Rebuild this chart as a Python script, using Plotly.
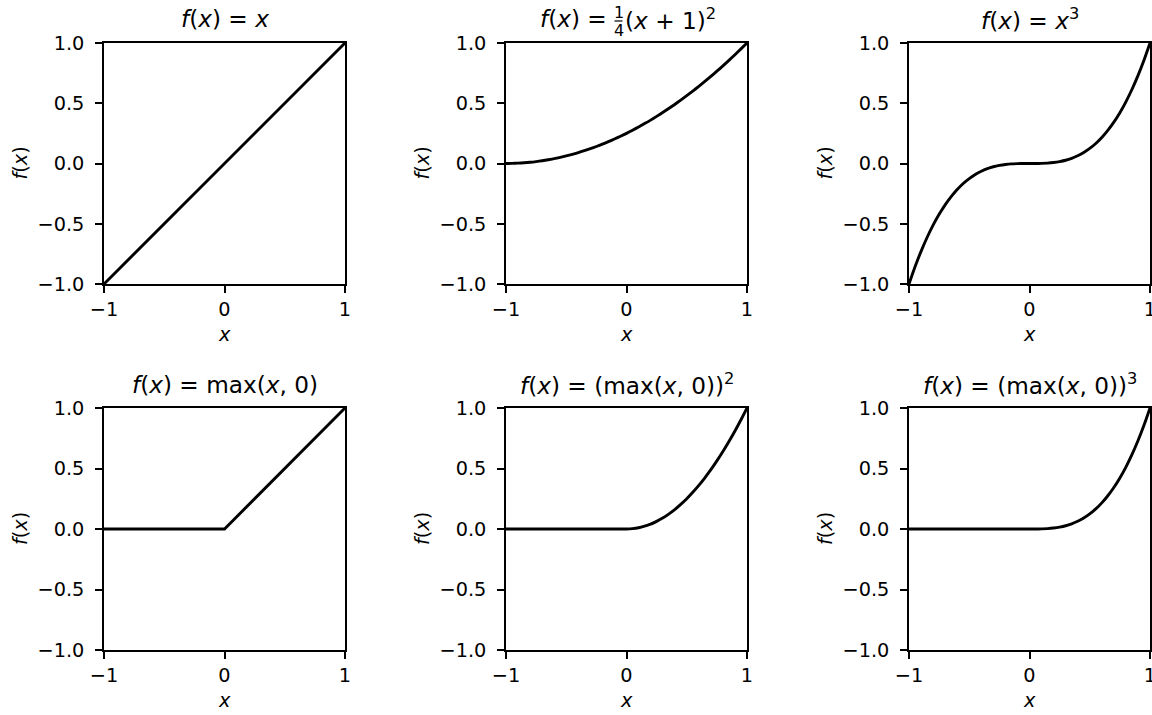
import plotly.graph_objects as go

# ---- data ----
x_vals = [-1.00, -0.95, -0.90, -0.85, -0.80, -0.75, -0.70, -0.65, -0.60, -0.55,
          -0.50, -0.45, -0.40, -0.35, -0.30, -0.25, -0.20, -0.15, -0.10, -0.05,
          0.00, 0.05, 0.10, 0.15, 0.20, 0.25, 0.30, 0.35, 0.40, 0.45,
          0.50, 0.55, 0.60, 0.65, 0.70, 0.75, 0.80, 0.85, 0.90, 0.95, 1.00]

y_identity = [-1.00, -0.95, -0.90, -0.85, -0.80, -0.75, -0.70, -0.65, -0.60, -0.55,
              -0.50, -0.45, -0.40, -0.35, -0.30, -0.25, -0.20, -0.15, -0.10, -0.05,
              0.00, 0.05, 0.10, 0.15, 0.20, 0.25, 0.30, 0.35, 0.40, 0.45,
              0.50, 0.55, 0.60, 0.65, 0.70, 0.75, 0.80, 0.85, 0.90, 0.95, 1.00]

y_quarter_sq = [0.000, 0.001, 0.003, 0.006, 0.010, 0.016, 0.023, 0.031, 0.040, 0.051,
                0.063, 0.076, 0.090, 0.106, 0.123, 0.141, 0.160, 0.181, 0.203, 0.226,
                0.250, 0.276, 0.303, 0.331, 0.360, 0.391, 0.423, 0.456, 0.490, 0.526,
                0.563, 0.601, 0.640, 0.681, 0.723, 0.766, 0.810, 0.856, 0.903, 0.951, 1.000]

y_cube = [-1.000, -0.857, -0.729, -0.614, -0.512, -0.422, -0.343, -0.275, -0.216, -0.166,
          -0.125, -0.091, -0.064, -0.043, -0.027, -0.016, -0.008, -0.003, -0.001, -0.000,
          0.000, 0.000, 0.001, 0.003, 0.008, 0.016, 0.027, 0.043, 0.064, 0.091,
          0.125, 0.166, 0.216, 0.275, 0.343, 0.422, 0.512, 0.614, 0.729, 0.857, 1.000]

y_relu = [0.00, 0.00, 0.00, 0.00, 0.00, 0.00, 0.00, 0.00, 0.00, 0.00,
          0.00, 0.00, 0.00, 0.00, 0.00, 0.00, 0.00, 0.00, 0.00, 0.00,
          0.00, 0.05, 0.10, 0.15, 0.20, 0.25, 0.30, 0.35, 0.40, 0.45,
          0.50, 0.55, 0.60, 0.65, 0.70, 0.75, 0.80, 0.85, 0.90, 0.95, 1.00]

y_relu_sq = [0.000, 0.000, 0.000, 0.000, 0.000, 0.000, 0.000, 0.000, 0.000, 0.000,
             0.000, 0.000, 0.000, 0.000, 0.000, 0.000, 0.000, 0.000, 0.000, 0.000,
             0.000, 0.003, 0.010, 0.023, 0.040, 0.063, 0.090, 0.123, 0.160, 0.203,
             0.250, 0.303, 0.360, 0.423, 0.490, 0.563, 0.640, 0.723, 0.810, 0.903, 1.000]

y_relu_cube = [0.000, 0.000, 0.000, 0.000, 0.000, 0.000, 0.000, 0.000, 0.000, 0.000,
               0.000, 0.000, 0.000, 0.000, 0.000, 0.000, 0.000, 0.000, 0.000, 0.000,
               0.000, 0.000, 0.001, 0.003, 0.008, 0.016, 0.027, 0.043, 0.064, 0.091,
               0.125, 0.166, 0.216, 0.275, 0.343, 0.422, 0.512, 0.614, 0.729, 0.857, 1.000]

series = [y_identity, y_quarter_sq, y_cube, y_relu, y_relu_sq, y_relu_cube]
line_shapes = ["linear", "spline", "spline", "linear", "spline", "spline"]

titles = [
    "<i>f</i>(<i>x</i>) = <i>x</i>",
    None,
    "<i>f</i>(<i>x</i>) = <i>x</i><sup>3</sup>",
    "<i>f</i>(<i>x</i>) = max(<i>x</i>, 0)",
    "<i>f</i>(<i>x</i>) = (max(<i>x</i>, 0))<sup>2</sup>",
    "<i>f</i>(<i>x</i>) = (max(<i>x</i>, 0))<sup>3</sup>",
]

x_tick_vals = [-1, 0, 1]
x_tick_text = ["\u22121", "0", "1"]
y_tick_vals = [-1.0, -0.5, 0.0, 0.5, 1.0]
y_tick_text = ["\u22121.0", "\u22120.5", "0.0", "0.5", "1.0"]

# ---- layout geometry (window pixels) ----
W, H = 1152, 715
OFF = 0
col_px = [(104, 345), (506, 747), (909, 1150)]
row_px = [(43, 284), (408, 650)]

def px(v):
    return (v - OFF) / W

def py(v):
    return 1 - (v - OFF) / H

FONT = "DejaVu Sans, Liberation Sans, sans-serif"
TICK_SIZE = 19.3
TITLE_SIZE = 23.2

fig = go.Figure()
layout = dict(
    width=W, height=H,
    margin=dict(l=0, r=0, t=0, b=0, autoexpand=False),
    paper_bgcolor="white", plot_bgcolor="white",
    showlegend=False,
    font=dict(family=FONT, size=TICK_SIZE, color="black"),
)
annotations = []
shapes = []

for i, ys in enumerate(series):
    r, c = divmod(i, 3)
    idx = i + 1
    xa = "x" if idx == 1 else f"x{idx}"
    ya = "y" if idx == 1 else f"y{idx}"
    fig.add_trace(go.Scatter(x=x_vals, y=ys, mode="lines",
                             line=dict(color="black", width=2.9, shape=line_shapes[i],
                                       smoothing=0.6),
                             xaxis=xa, yaxis=ya, cliponaxis=False))
    x0, x1 = col_px[c]
    y0, y1 = row_px[r]
    axis_common = dict(showline=True, mirror=True, linecolor="black", linewidth=1.5,
                       ticks="outside", ticklen=7, tickwidth=1.5, tickcolor="black",
                       showgrid=False, zeroline=False, automargin=False,
                       ticklabeloverflow="allow",
                       tickfont=dict(family=FONT, size=TICK_SIZE, color="black"))
    layout["xaxis" if idx == 1 else f"xaxis{idx}"] = dict(
        domain=[px(x0), px(x1)], range=[-1, 1], anchor=ya,
        tickmode="array", tickvals=x_tick_vals, ticktext=x_tick_text, **axis_common)
    layout["yaxis" if idx == 1 else f"yaxis{idx}"] = dict(
        domain=[py(y1), py(y0)], range=[-1, 1], anchor=xa, ticklabelstandoff=7,
        tickmode="array", tickvals=y_tick_vals, ticktext=y_tick_text, **axis_common)

    cx = (x0 + x1) / 2
    cy = (y0 + y1) / 2
    title_y = y0 - 24
    if titles[i] is not None:
        annotations.append(dict(text=titles[i], xref="paper", yref="paper",
                                x=px(cx), y=py(title_y), xanchor="center", yanchor="middle",
                                showarrow=False, font=dict(family=FONT, size=TITLE_SIZE)))
    else:
        # f(x) = 1/4 (x+1)^2 with a stacked fraction
        annotations.append(dict(text="<i>f</i>(<i>x</i>) =", xref="paper", yref="paper",
                                x=px(609), y=py(title_y), xanchor="right", yanchor="middle",
                                showarrow=False, font=dict(family=FONT, size=TITLE_SIZE)))
        annotations.append(dict(text="(<i>x</i> + 1)<sup>2</sup>", xref="paper", yref="paper",
                                x=px(623), y=py(title_y), xanchor="left", yanchor="middle",
                                showarrow=False, font=dict(family=FONT, size=TITLE_SIZE)))
        annotations.append(dict(text="1", xref="paper", yref="paper",
                                x=px(618.5), y=py(12.5), xanchor="center", yanchor="middle",
                                showarrow=False, font=dict(family=FONT, size=16)))
        annotations.append(dict(text="4", xref="paper", yref="paper",
                                x=px(618.5), y=py(30), xanchor="center", yanchor="middle",
                                showarrow=False, font=dict(family=FONT, size=16)))
        shapes.append(dict(type="line", xref="paper", yref="paper",
                           x0=px(614.5), x1=px(622.5), y0=py(21), y1=py(21),
                           line=dict(color="black", width=1.2)))
    # axis labels
    annotations.append(dict(text="<i>x</i>", xref="paper", yref="paper",
                            x=px(cx), y=py(y1 + 50.5), xanchor="center", yanchor="middle",
                            showarrow=False, font=dict(family=FONT, size=TICK_SIZE)))
    annotations.append(dict(text="<i>f</i>(<i>x</i>)", xref="paper", yref="paper",
                            x=px(x0 - 84), y=py(cy), xanchor="center", yanchor="middle",
                            textangle=-90, showarrow=False,
                            font=dict(family=FONT, size=TICK_SIZE)))

layout["annotations"] = annotations
layout["shapes"] = shapes
fig.update_layout(**layout)
fig.write_html("out.html",
               config={"displayModeBar": False},
               post_script="document.body.style.margin='0px';"
                           "document.documentElement.style.overflow='hidden';")
